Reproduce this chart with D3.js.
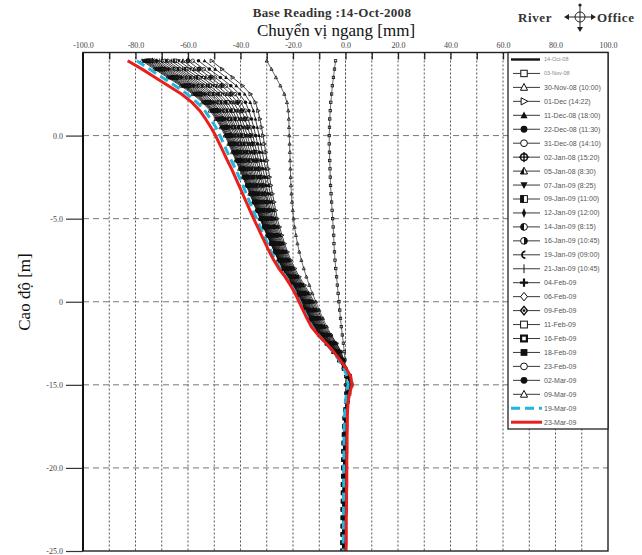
<!DOCTYPE html>
<html><head><meta charset="utf-8">
<script src="https://cdn.jsdelivr.net/npm/d3@7"></script>
<style>body{margin:0;background:#fff}svg{display:block}</style>
</head><body><svg id="chart" width="642" height="555"></svg>
<script>
// Elevation of each inclinometer reading [m]
const depth = [4.5,4,3.5,3,2.5,2,1.5,1,0.5,0,-0.5,-1,-1.5,-2,-2.5,-3,-3.5,-4,-4.5,-5,-5.5,-6,-6.5,-7,-7.5,-8,-8.5,-9,-9.5,-10,-10.5,-11,-11.5,-12,-12.5,-13,-13.5,-14,-14.5,-15,-15.5,-16,-16.5,-17,-17.5,-18,-18.5,-19,-19.5,-20,-20.5,-21,-21.5,-22,-22.5,-23,-23.5,-24,-24.5,-25];

const xTickValues = [-100,-80,-60,-40,-20,0,20,40,60,80,100];
const xTickLabels = ["-100.0","-80.0","-60.0","-40.0","-20.0","0.0","20.0","40.0","60.0","80.0","100.0"];
const xMinorTicks = [-90,-80,-70,-60,-50,-40,-30,-20,-10,0,10,20,30,40,50,60,70,80,90];
const yTickValues = [0,-5,-10,-15,-20,-25];
const yTickLabels = ["0.0","-5.0","0","-15.0","-20.0","-25.0"];
const yGrid = [0,-5,-10,-15,-20];

const seriesNames = ["14-Oct-08","03-Nov-08","30-Nov-08 (10:00)","01-Dec (14:22)","11-Dec-08 (18:00)","22-Dec-08 (11:30)","31-Dec-08 (14:10)","02-Jan-08 (15:20)","05-Jan-08 (8:30)","07-Jan-09 (8:25)","09-Jan-09 (11:00)","12-Jan-09 (12:00)","14-Jan-09 (8:15)","16-Jan-09 (10:45)","19-Jan-09 (09:00)","21-Jan-09 (10:45)","04-Feb-09","06-Feb-09","09-Feb-09","11-Feb-09","16-Feb-09","18-Feb-09","23-Feb-09","02-Mar-09","09-Mar-09","19-Mar-09","23-Mar-09"];
const markerTypes = ["none","square-open","tri-open","tri-right-open","tri-fill","circle-fill","circle-open","circle-plus","tri-half","tri-down-fill","square-half","diamond-thin","circle-half-left","circle-half-right","crescent","vbar","plus-fill","diamond-open","diamond-dot","square-open","square-thick","square-fill","circle-open","circle-fill","tri-open","none","none"];

// Horizontal displacement [mm] per reading date, top to bottom
const oct14 = [0,0,0,0,0,0,0,0,0,0,0,0,0,0,0,0,0,0,0,0,0,0,0,0,0,0,0,0,0,0,0,0,0,0,0,0,0,0,0,0,0,0,0,0,0,0,0,0,0,0,0,0,0,0,0,0,0,0,0,0];
const nov03 = [-3.8,-4.2,-4.6,-5,-5.3,-5.6,-5.8,-6,-6.1,-6.2,-6.2,-6.1,-6,-5.9,-5.8,-5.7,-5.5,-5.3,-5.1,-4.9,-4.7,-4.5,-4.4,-4.2,-4,-3.7,-3.4,-3.1,-2.8,-2.5,-2.2,-1.9,-1.6,-1.2,-0.8,-0.5,-0.2,0,0.1,0.1,0.1,0.1,0,0,0,0,0,0,0,0,-0.1,-0.1,-0.1,-0.1,-0.1,-0.1,-0.1,-0.1,-0.1,-0.1];
const nov30 = [-30,-28.2,-26.5,-24.8,-23.3,-22.3,-21.8,-21.6,-21.5,-21.4,-21.3,-21.2,-21.1,-21,-20.9,-20.8,-20.6,-20.4,-20.1,-19.8,-19.4,-18.9,-18.3,-17.6,-16.8,-15.9,-14.9,-13.8,-12.6,-11.3,-10,-8.6,-7.1,-5.4,-3.5,-1.7,-0.6,-0.2,0.3,0.5,0.3,0.1,0,0,-0.1,-0.1,-0.1,-0.1,-0.2,-0.2,-0.2,-0.2,-0.2,-0.3,-0.3,-0.3,-0.3,-0.3,-0.3,-0.3];
const dec01 = [-51,-47,-43,-39.2,-36.2,-34.3,-33.3,-32.6,-32,-31.4,-30.9,-30.4,-29.9,-29.4,-28.9,-28.4,-27.8,-27.2,-26.6,-26,-25.1,-24.2,-23.2,-22.1,-20.8,-19.3,-17.6,-15.6,-13.7,-12,-10.5,-9.1,-7.6,-5.6,-3.4,-1.8,-0.7,0,0.9,1.2,0.7,0.4,0.2,0.1,0.1,0,0,-0.1,-0.1,-0.1,-0.2,-0.2,-0.2,-0.2,-0.3,-0.3,-0.3,-0.3,-0.3,-0.4];
const dec11 = [-53.7,-49.6,-45.5,-41.6,-38.4,-36.3,-35.1,-34.3,-33.6,-32.9,-32.3,-31.7,-31.1,-30.5,-29.9,-29.3,-28.7,-28,-27.3,-26.7,-25.7,-24.8,-23.7,-22.6,-21.3,-19.8,-18.1,-16.1,-14.2,-12.5,-11,-9.6,-8.1,-6,-3.8,-2.1,-0.9,-0.1,1,1.3,0.8,0.4,0.2,0.1,0,0,-0.1,-0.1,-0.2,-0.2,-0.2,-0.3,-0.3,-0.3,-0.3,-0.4,-0.4,-0.4,-0.4,-0.4];
const dec22 = [-56,-51.9,-47.7,-43.7,-40.4,-38.1,-36.8,-35.8,-35,-34.2,-33.5,-32.8,-32.2,-31.5,-30.8,-30.2,-29.5,-28.7,-28,-27.3,-26.3,-25.3,-24.2,-23.1,-21.7,-20.2,-18.5,-16.5,-14.6,-13,-11.5,-10,-8.5,-6.4,-4.1,-2.3,-1,-0.1,1,1.3,0.9,0.5,0.2,0,-0.1,-0.2,-0.2,-0.3,-0.3,-0.4,-0.4,-0.4,-0.5,-0.5,-0.5,-0.5,-0.6,-0.6,-0.6,-0.6];
const dec31 = [-58.2,-54,-49.7,-45.6,-42.1,-39.8,-38.2,-37.1,-36.2,-35.3,-34.6,-33.8,-33.1,-32.4,-31.7,-30.9,-30.2,-29.4,-28.6,-27.8,-26.8,-25.7,-24.6,-23.5,-22.1,-20.6,-18.9,-16.9,-15,-13.4,-11.9,-10.4,-8.8,-6.8,-4.4,-2.6,-1.2,-0.2,1,1.4,0.8,0.4,0.2,0.1,0,0,-0.1,-0.1,-0.2,-0.2,-0.2,-0.3,-0.3,-0.3,-0.3,-0.4,-0.4,-0.4,-0.4,-0.4];
const jan02 = [-60,-55.8,-51.4,-47.2,-43.7,-41.2,-39.5,-38.3,-37.3,-36.3,-35.5,-34.7,-34,-33.1,-32.4,-31.6,-30.8,-29.9,-29.1,-28.2,-27.2,-26.1,-25,-23.8,-22.4,-20.9,-19.2,-17.2,-15.4,-13.7,-12.2,-10.7,-9.2,-7.1,-4.7,-2.8,-1.3,-0.2,1.1,1.4,0.9,0.5,0.2,0,-0.1,-0.2,-0.2,-0.3,-0.3,-0.4,-0.4,-0.4,-0.5,-0.5,-0.5,-0.5,-0.6,-0.6,-0.6,-0.6];
const jan05 = [-61.9,-57.6,-53.2,-48.9,-45.2,-42.6,-40.8,-39.5,-38.4,-37.4,-36.5,-35.6,-34.8,-33.9,-33.1,-32.3,-31.4,-30.5,-29.6,-28.7,-27.6,-26.5,-25.4,-24.2,-22.8,-21.2,-19.5,-17.6,-15.7,-14.1,-12.6,-11.1,-9.5,-7.4,-5,-3,-1.4,-0.2,1.1,1.5,1,0.5,0.2,0,-0.1,-0.2,-0.3,-0.3,-0.4,-0.4,-0.5,-0.5,-0.5,-0.6,-0.6,-0.6,-0.6,-0.7,-0.7,-0.7];
const jan07 = [-63.5,-59.1,-54.7,-50.3,-46.5,-43.8,-41.9,-40.5,-39.3,-38.2,-37.3,-36.4,-35.5,-34.6,-33.7,-32.8,-31.9,-31,-30,-29.1,-28,-26.9,-25.7,-24.5,-23.1,-21.5,-19.8,-17.9,-16,-14.4,-12.9,-11.4,-9.8,-7.6,-5.2,-3.1,-1.5,-0.3,1.1,1.5,0.9,0.5,0.2,0,-0.1,-0.2,-0.2,-0.3,-0.3,-0.4,-0.4,-0.4,-0.5,-0.5,-0.5,-0.5,-0.6,-0.6,-0.6,-0.6];
const jan09 = [-65,-60.7,-56.1,-51.7,-47.9,-45,-43,-41.5,-40.2,-39.1,-38.1,-37.1,-36.2,-35.2,-34.3,-33.4,-32.4,-31.4,-30.5,-29.5,-28.4,-27.2,-26,-24.8,-23.3,-21.8,-20.1,-18.1,-16.3,-14.7,-13.2,-11.6,-10,-7.9,-5.4,-3.3,-1.6,-0.3,1.2,1.6,1,0.5,0.2,0,-0.1,-0.2,-0.3,-0.3,-0.4,-0.4,-0.5,-0.5,-0.5,-0.6,-0.6,-0.6,-0.6,-0.7,-0.7,-0.7];
const jan12 = [-66.4,-62,-57.4,-52.9,-49,-46,-43.9,-42.3,-41,-39.8,-38.8,-37.8,-36.8,-35.8,-34.8,-33.9,-32.9,-31.8,-30.8,-29.8,-28.7,-27.5,-26.3,-25,-23.6,-22,-20.3,-18.4,-16.5,-14.9,-13.4,-11.9,-10.3,-8.1,-5.6,-3.4,-1.7,-0.3,1.2,1.6,1.1,0.5,0.1,-0.1,-0.3,-0.4,-0.4,-0.5,-0.5,-0.6,-0.6,-0.6,-0.7,-0.7,-0.7,-0.7,-0.8,-0.8,-0.8,-0.8];
const jan14 = [-67.7,-63.3,-58.6,-54.1,-50.1,-47,-44.8,-43.2,-41.8,-40.5,-39.5,-38.4,-37.4,-36.3,-35.3,-34.3,-33.3,-32.2,-31.2,-30.2,-29,-27.8,-26.5,-25.3,-23.8,-22.3,-20.6,-18.6,-16.8,-15.2,-13.7,-12.1,-10.5,-8.3,-5.8,-3.6,-1.8,-0.4,1.2,1.7,1,0.5,0.2,0,-0.1,-0.2,-0.3,-0.3,-0.4,-0.4,-0.5,-0.5,-0.5,-0.6,-0.6,-0.6,-0.6,-0.7,-0.7,-0.7];
const jan16 = [-68.8,-64.3,-59.6,-55,-50.9,-47.8,-45.6,-43.9,-42.4,-41.1,-40,-38.9,-37.9,-36.8,-35.7,-34.7,-33.6,-32.6,-31.5,-30.4,-29.3,-28,-26.8,-25.5,-24,-22.5,-20.8,-18.8,-17,-15.4,-13.9,-12.3,-10.7,-8.5,-6,-3.7,-1.8,-0.4,1.3,1.7,1.1,0.5,0.1,-0.1,-0.3,-0.4,-0.4,-0.5,-0.5,-0.6,-0.6,-0.6,-0.7,-0.7,-0.7,-0.7,-0.8,-0.8,-0.8,-0.8];
const jan19 = [-69.8,-65.3,-60.6,-56,-51.8,-48.6,-46.3,-44.5,-43,-41.7,-40.6,-39.4,-38.4,-37.2,-36.1,-35.1,-34,-32.9,-31.8,-30.7,-29.5,-28.3,-27,-25.7,-24.2,-22.6,-20.9,-19,-17.2,-15.6,-14.1,-12.5,-10.9,-8.7,-6.1,-3.8,-1.9,-0.4,1.3,1.8,1.1,0.6,0.1,-0.2,-0.3,-0.4,-0.5,-0.5,-0.6,-0.6,-0.7,-0.7,-0.7,-0.8,-0.8,-0.8,-0.8,-0.9,-0.9,-0.9];
const jan21 = [-70.9,-66.4,-61.6,-56.9,-52.7,-49.5,-47,-45.2,-43.6,-42.3,-41.1,-39.9,-38.8,-37.7,-36.6,-35.5,-34.3,-33.2,-32.1,-31,-29.8,-28.5,-27.2,-25.9,-24.4,-22.8,-21.1,-19.2,-17.4,-15.8,-14.3,-12.7,-11.1,-8.8,-6.3,-3.9,-2,-0.5,1.3,1.8,1.1,0.5,0.1,-0.1,-0.3,-0.4,-0.4,-0.5,-0.5,-0.6,-0.6,-0.6,-0.7,-0.7,-0.7,-0.7,-0.8,-0.8,-0.8,-0.8];
const feb04 = [-71.9,-67.4,-62.6,-57.8,-53.6,-50.3,-47.8,-45.9,-44.3,-42.9,-41.6,-40.4,-39.3,-38.1,-37,-35.8,-34.7,-33.5,-32.4,-31.2,-30,-28.7,-27.4,-26.1,-24.6,-23,-21.3,-19.4,-17.6,-16,-14.5,-12.9,-11.2,-9,-6.4,-4,-2,-0.5,1.4,1.9,1.1,0.6,0.1,-0.2,-0.3,-0.4,-0.5,-0.5,-0.6,-0.6,-0.7,-0.7,-0.7,-0.8,-0.8,-0.8,-0.8,-0.9,-0.9,-0.9];
const feb06 = [-72.7,-68.2,-63.3,-58.6,-54.2,-50.9,-48.3,-46.4,-44.7,-43.3,-42.1,-40.8,-39.7,-38.4,-37.3,-36.1,-34.9,-33.8,-32.6,-31.4,-30.2,-28.9,-27.6,-26.2,-24.7,-23.2,-21.5,-19.5,-17.7,-16.1,-14.6,-13,-11.4,-9.1,-6.5,-4.1,-2.1,-0.5,1.4,1.9,1.2,0.6,0.1,-0.2,-0.4,-0.5,-0.6,-0.6,-0.7,-0.7,-0.8,-0.8,-0.8,-0.9,-0.9,-0.9,-0.9,-1,-1,-1];
const feb09 = [-73.5,-68.9,-64.1,-59.3,-54.9,-51.5,-48.9,-46.9,-45.2,-43.7,-42.5,-41.2,-40,-38.8,-37.6,-36.4,-35.2,-34,-32.8,-31.6,-30.4,-29.1,-27.7,-26.4,-24.9,-23.3,-21.6,-19.7,-17.9,-16.3,-14.8,-13.2,-11.5,-9.3,-6.6,-4.2,-2.2,-0.5,1.4,2,1.1,0.6,0.1,-0.2,-0.3,-0.4,-0.5,-0.5,-0.6,-0.6,-0.7,-0.7,-0.7,-0.8,-0.8,-0.8,-0.8,-0.9,-0.9,-0.9];
const feb11 = [-74.3,-69.7,-64.8,-60,-55.6,-52.1,-49.4,-47.4,-45.6,-44.2,-42.9,-41.6,-40.4,-39.1,-37.9,-36.7,-35.5,-34.2,-33,-31.8,-30.6,-29.2,-27.9,-26.5,-25,-23.4,-21.7,-19.8,-18,-16.4,-14.9,-13.3,-11.7,-9.4,-6.7,-4.3,-2.2,-0.5,1.5,2,1.2,0.6,0.1,-0.2,-0.4,-0.5,-0.6,-0.6,-0.7,-0.7,-0.8,-0.8,-0.8,-0.9,-0.9,-0.9,-0.9,-1,-1,-1];
const feb16 = [-75.1,-70.5,-65.6,-60.7,-56.2,-52.7,-50,-47.9,-46.1,-44.6,-43.3,-42,-40.7,-39.4,-38.2,-37,-35.7,-34.5,-33.2,-32,-30.7,-29.4,-28,-26.7,-25.2,-23.6,-21.9,-20,-18.2,-16.6,-15.1,-13.5,-11.8,-9.5,-6.9,-4.4,-2.3,-0.5,1.5,2.1,1.3,0.6,0.1,-0.2,-0.4,-0.5,-0.6,-0.7,-0.7,-0.8,-0.8,-0.9,-0.9,-0.9,-1,-1,-1,-1,-1.1,-1.1];
const feb18 = [-75.8,-71.1,-66.2,-61.3,-56.8,-53.2,-50.4,-48.3,-46.5,-45,-43.6,-42.3,-41,-39.7,-38.4,-37.2,-35.9,-34.7,-33.4,-32.2,-30.9,-29.5,-28.2,-26.8,-25.3,-23.7,-22,-20.1,-18.3,-16.7,-15.2,-13.6,-11.9,-9.6,-7,-4.4,-2.3,-0.6,1.5,2.1,1.2,0.6,0.1,-0.2,-0.4,-0.5,-0.6,-0.6,-0.7,-0.7,-0.8,-0.8,-0.8,-0.9,-0.9,-0.9,-0.9,-1,-1,-1];
const feb23 = [-76.3,-71.6,-66.7,-61.7,-57.2,-53.6,-50.8,-48.6,-46.8,-45.3,-43.9,-42.5,-41.3,-39.9,-38.6,-37.4,-36.1,-34.8,-33.6,-32.3,-31,-29.6,-28.3,-26.9,-25.4,-23.8,-22.1,-20.2,-18.4,-16.8,-15.3,-13.7,-12,-9.7,-7,-4.5,-2.3,-0.6,1.5,2,1.3,0.6,0.1,-0.2,-0.4,-0.5,-0.6,-0.7,-0.7,-0.8,-0.8,-0.9,-0.9,-0.9,-1,-1,-1,-1,-1.1,-1.1];
const mar02 = [-76.8,-72.2,-67.2,-62.2,-57.7,-54,-51.1,-49,-47.1,-45.5,-44.2,-42.8,-41.5,-40.1,-38.9,-37.6,-36.3,-35,-33.7,-32.4,-31.2,-29.8,-28.4,-27,-25.5,-23.9,-22.2,-20.3,-18.5,-16.9,-15.4,-13.8,-12.1,-9.8,-7.1,-4.5,-2.4,-0.6,1.3,1.8,1.2,0.6,0.1,-0.2,-0.4,-0.5,-0.6,-0.6,-0.7,-0.7,-0.8,-0.8,-0.8,-0.9,-0.9,-0.9,-0.9,-1,-1,-1];
const mar09 = [-77.5,-72.8,-67.8,-62.8,-58.2,-54.5,-51.6,-49.4,-47.5,-45.9,-44.5,-43.1,-41.8,-40.4,-39.1,-37.8,-36.5,-35.2,-33.9,-32.6,-31.3,-29.9,-28.5,-27.1,-25.6,-24,-22.3,-20.4,-18.6,-17,-15.5,-13.9,-12.2,-9.9,-7.2,-4.6,-2.4,-0.6,1,1.3,0.8,0.3,0,-0.2,-0.4,-0.5,-0.6,-0.7,-0.7,-0.8,-0.8,-0.8,-0.9,-0.9,-0.9,-0.9,-1,-1,-1,-1];
const mar19 = [-79.5,-74.7,-69.8,-64.9,-60.3,-56.6,-53.6,-51.4,-49.4,-47.8,-46.4,-45,-43.5,-41.9,-40.5,-39.1,-37.8,-36.5,-35.2,-33.9,-32.5,-31.1,-29.7,-28.3,-26.7,-24.9,-22.7,-20.7,-18.9,-17.4,-15.9,-14.4,-12.7,-10.3,-7.5,-4.8,-2.5,-0.6,0.6,1,0.4,0,-0.2,-0.4,-0.5,-0.5,-0.6,-0.6,-0.6,-0.7,-0.7,-0.7,-0.7,-0.8,-0.8,-0.8,-0.8,-0.8,-0.9,-0.9];
const mar23 = [-83,-77.5,-72.5,-67.5,-62.5,-58.5,-55.5,-53.3,-51.3,-49.5,-48,-46.5,-45,-43.4,-42,-40.6,-39.2,-37.8,-36.4,-35,-33.5,-32,-30.5,-29,-27.3,-25.4,-23,-21,-19.2,-17.7,-16.2,-14.7,-13,-10.4,-7.4,-4.6,-2.1,0.2,2,2.5,1.6,1,0.8,0.7,0.7,0.6,0.6,0.6,0.5,0.5,0.5,0.5,0.4,0.4,0.4,0.3,0.3,0.3,0.3,0.2];

const seriesValues = [oct14,nov03,nov30,dec01,dec11,dec22,dec31,jan02,jan05,jan07,jan09,jan12,jan14,jan16,jan19,jan21,feb04,feb06,feb09,feb11,feb16,feb18,feb23,mar02,mar09,mar19,mar23];

// ---------- layout ----------
const svg = d3.select("#chart");
const frame = {left: 83, right: 608, top: 52.5, bottom: 551};
const x = d3.scaleLinear().domain([-100, 100]).range([frame.left, frame.right]);
const y = d3.scaleLinear().domain([-25, 5]).range([frame.bottom, frame.top]);
const serif = "'Liberation Serif','Times New Roman',serif";
const sans = "'Liberation Sans',Arial,sans-serif";

// headings
svg.append("text").attr("x", 332).attr("y", 17).attr("text-anchor", "middle")
  .attr("font-family", serif).attr("font-weight", "bold").attr("font-size", 13).attr("letter-spacing", 0.3).attr("fill", "#333")
  .text("Base Reading :14-Oct-2008");
svg.append("text").attr("x", 336).attr("y", 36).attr("text-anchor", "middle")
  .attr("font-family", serif).attr("font-size", 17).attr("fill", "#111")
  .text("Chuyển vị ngang [mm]");

// direction key
const dir = svg.append("g").attr("font-family", serif).attr("font-weight", "bold").attr("font-size", 13).attr("letter-spacing", 0.6).attr("fill", "#333");
dir.append("text").attr("x", 518).attr("y", 22).text("River");
dir.append("text").attr("x", 597).attr("y", 22).text("Office");
const cx = 580, cy = 17;
const key = svg.append("g").attr("stroke", "#222").attr("fill", "none").attr("stroke-width", 1);
key.append("circle").attr("cx", cx).attr("cy", cy).attr("r", 5);
key.append("line").attr("x1", cx - 13).attr("x2", cx + 13).attr("y1", cy).attr("y2", cy);
key.append("line").attr("x1", cx).attr("x2", cx).attr("y1", cy - 11).attr("y2", cy + 12);
svg.append("path").attr("fill", "#222")
  .attr("d", `M${cx-16},${cy}L${cx-11},${cy-3}L${cx-11},${cy+3}Z M${cx+16},${cy}L${cx+11},${cy-3}L${cx+11},${cy+3}Z M${cx},${cy+15}L${cx-3},${cy+10}L${cx+3},${cy+10}Z`);
svg.append("circle").attr("cx", cx).attr("cy", cy - 12).attr("r", 1.6).attr("fill", "#222");

// y-axis title
svg.append("text").attr("transform", "translate(30,292) rotate(-90)").attr("text-anchor", "middle")
  .attr("font-family", serif).attr("font-size", 17).attr("fill", "#111").text("Cao độ [m]");

// grid
const grid = svg.append("g");
grid.selectAll(".gx").data(xMinorTicks).join("line")
  .attr("x1", d => x(d)).attr("x2", d => x(d)).attr("y1", frame.top).attr("y2", frame.bottom)
  .attr("stroke", "#555").attr("stroke-width", 1).attr("stroke-dasharray", "2,2");
grid.selectAll(".gy").data(yGrid).join("line")
  .attr("x1", frame.left).attr("x2", frame.right).attr("y1", d => y(d)).attr("y2", d => y(d))
  .attr("stroke", "#777").attr("stroke-width", 1).attr("stroke-dasharray", "6,4");

// axes
const topAxis = svg.append("g").attr("transform", `translate(0,${frame.top})`)
  .call(d3.axisTop(x).tickValues(xTickValues).tickSize(0).tickPadding(5).tickFormat((d, i) => xTickLabels[i]));
topAxis.select(".domain").remove();
topAxis.selectAll("text").attr("font-family", serif).attr("font-size", 8).attr("fill", "#444");
const topTicks = svg.append("g").attr("transform", `translate(0,${frame.top})`)
  .call(d3.axisBottom(x).tickValues(xMinorTicks).tickSize(7).tickFormat(""));
topTicks.select(".domain").remove();
topTicks.selectAll("line").attr("stroke", "#222").attr("stroke-width", 1.3);

const leftAxis = svg.append("g").attr("transform", `translate(${frame.left},0)`)
  .call(d3.axisLeft(y).tickValues(yTickValues).tickSize(17).tickPadding(3).tickFormat((d, i) => yTickLabels[i]));
leftAxis.select(".domain").remove();
leftAxis.selectAll("line").attr("stroke", "#333").attr("stroke-width", 1.2);
leftAxis.selectAll("text").attr("font-family", serif).attr("font-size", 8).attr("fill", "#444");

// ---------- markers ----------
// bg: fill used inside hollow symbols (white in the legend, see-through on the profiles)
function drawMarker(g, type, r, sw, bg) {
  const k = "#111";
  const path = d => g.append("path").attr("d", d);
  switch (type) {
    case "square-open":
      g.append("rect").attr("x", -r).attr("y", -r).attr("width", 2*r).attr("height", 2*r).attr("fill", bg).attr("stroke", k).attr("stroke-width", sw); break;
    case "square-thick":
      g.append("rect").attr("x", -r*0.85).attr("y", -r*0.85).attr("width", 1.7*r).attr("height", 1.7*r).attr("fill", bg).attr("stroke", k).attr("stroke-width", sw*2.2); break;
    case "square-fill":
      g.append("rect").attr("x", -r).attr("y", -r).attr("width", 2*r).attr("height", 2*r).attr("fill", k); break;
    case "square-half":
      g.append("rect").attr("x", -r).attr("y", -r).attr("width", 2*r).attr("height", 2*r).attr("fill", bg).attr("stroke", k).attr("stroke-width", sw);
      g.append("rect").attr("x", -r).attr("y", -r).attr("width", r).attr("height", 2*r).attr("fill", k); break;
    case "tri-open":
      path(`M0,${-r*1.15}L${r*1.05},${r*0.85}L${-r*1.05},${r*0.85}Z`).attr("fill", bg).attr("stroke", k).attr("stroke-width", sw); break;
    case "tri-fill":
      path(`M0,${-r*1.15}L${r*1.05},${r*0.85}L${-r*1.05},${r*0.85}Z`).attr("fill", k); break;
    case "tri-half":
      path(`M0,${-r*1.15}L${r*1.05},${r*0.85}L${-r*1.05},${r*0.85}Z`).attr("fill", bg).attr("stroke", k).attr("stroke-width", sw);
      path(`M0,${-r*1.15}L0,${r*0.85}L${-r*1.05},${r*0.85}Z`).attr("fill", k); break;
    case "tri-down-fill":
      path(`M0,${r*1.15}L${r*1.05},${-r*0.85}L${-r*1.05},${-r*0.85}Z`).attr("fill", k); break;
    case "tri-right-open":
      path(`M${r*1.15},0L${-r*0.85},${-r*1.05}L${-r*0.85},${r*1.05}Z`).attr("fill", bg).attr("stroke", k).attr("stroke-width", sw); break;
    case "circle-fill":
      g.append("circle").attr("r", r).attr("fill", k); break;
    case "circle-open":
      g.append("circle").attr("r", r).attr("fill", bg).attr("stroke", k).attr("stroke-width", sw); break;
    case "circle-plus":
      g.append("circle").attr("r", r).attr("fill", bg).attr("stroke", k).attr("stroke-width", sw*1.4);
      path(`M${-r*1.5},0H${r*1.5}M0,${-r*1.5}V${r*1.5}`).attr("stroke", k).attr("stroke-width", sw*1.4); break;
    case "circle-half-left":
      g.append("circle").attr("r", r).attr("fill", bg).attr("stroke", k).attr("stroke-width", sw);
      path(`M0,${-r}A${r},${r} 0 0 0 0,${r}Z`).attr("fill", k); break;
    case "circle-half-right":
      g.append("circle").attr("r", r).attr("fill", bg).attr("stroke", k).attr("stroke-width", sw);
      path(`M0,${-r}A${r},${r} 0 0 1 0,${r}Z`).attr("fill", k); break;
    case "crescent":
      path(`M${r*0.4},${-r}A${r},${r} 0 0 0 ${r*0.4},${r}`).attr("fill", "none").attr("stroke", k).attr("stroke-width", sw*1.8); break;
    case "vbar":
      path(`M0,${-r*1.3}V${r*1.3}`).attr("stroke", k).attr("stroke-width", sw); break;
    case "plus-fill":
      path(`M${-r*1.2},0H${r*1.2}M0,${-r*1.2}V${r*1.2}`).attr("stroke", k).attr("stroke-width", sw*2.2); break;
    case "diamond-open":
      path(`M0,${-r*1.25}L${r},0L0,${r*1.25}L${-r},0Z`).attr("fill", bg).attr("stroke", k).attr("stroke-width", sw); break;
    case "diamond-dot":
      path(`M0,${-r*1.25}L${r},0L0,${r*1.25}L${-r},0Z`).attr("fill", bg).attr("stroke", k).attr("stroke-width", sw*1.5);
      g.append("circle").attr("r", r*0.4).attr("fill", k); break;
    case "diamond-thin":
      path(`M0,${-r*1.45}L${r*0.6},0L0,${r*1.45}L${-r*0.6},0Z`).attr("fill", k); break;
  }
}

// ---------- profiles ----------
const plot = svg.append("g");
svg.append("clipPath").attr("id", "frameClip").append("rect")
  .attr("x", frame.left).attr("y", frame.top).attr("width", frame.right - frame.left).attr("height", frame.bottom - frame.top);
plot.attr("clip-path", "url(#frameClip)");

const line = d3.line().x(d => x(d[0])).y(d => y(d[1]));
const lineStyle = i => {
  if (i === 26) return {stroke: "#e8201c", width: 3, dash: null};
  if (i === 25) return {stroke: "#22b5e0", width: 3, dash: "9,5"};
  if (i === 0) return {stroke: "#555", width: 1, dash: "2,2"};   // base reading sits on the zero line
  if (i <= 2) return {stroke: "#444", width: 0.8, dash: null};
  return {stroke: "#111", width: 0.8, dash: null};
};

seriesValues.forEach((vals, i) => {
  const pts = vals.map((v, j) => [v, depth[j]]);
  const st = lineStyle(i);
  plot.append("path").datum(pts).attr("d", line).attr("fill", "none")
    .attr("stroke", st.stroke).attr("stroke-width", st.width)
    .attr("stroke-dasharray", st.dash).attr("stroke-linejoin", "round");
  if (markerTypes[i] !== "none") {
    const r = i === 1 ? 1.2 : (i === 2 ? 1.5 : 1.8);
    pts.forEach(p => {
      const g = plot.append("g").attr("transform", `translate(${x(p[0])},${y(p[1])})`);
      drawMarker(g, markerTypes[i], r, 0.8, "none");
    });
  }
});

// frame
svg.append("rect").attr("x", frame.left).attr("y", frame.top)
  .attr("width", frame.right - frame.left).attr("height", frame.bottom - frame.top)
  .attr("fill", "none").attr("stroke", "#222").attr("stroke-width", 1.4);
svg.append("line").attr("x1", frame.left).attr("x2", frame.left).attr("y1", frame.top).attr("y2", frame.bottom)
  .attr("stroke", "#111").attr("stroke-width", 2);

// ---------- legend ----------
const legend = svg.append("g");
const lg = {x: 508, y: frame.top, w: frame.right - 508, h: 429 - frame.top, first: 7, step: 13.95};
legend.append("rect").attr("x", lg.x).attr("y", lg.y).attr("width", lg.w).attr("height", lg.h)
  .attr("fill", "#fff").attr("stroke", "#222").attr("stroke-width", 1.3);
seriesNames.forEach((name, i) => {
  const ly = lg.y + lg.first + i * lg.step;
  const st = lineStyle(i);
  if (i === 0) {
    legend.append("line").attr("x1", 511).attr("x2", 540).attr("y1", ly).attr("y2", ly).attr("stroke", "#111").attr("stroke-width", 2.4);
  } else if (i >= 25) {
    legend.append("line").attr("x1", 511).attr("x2", 542).attr("y1", ly).attr("y2", ly)
      .attr("stroke", st.stroke).attr("stroke-width", 3).attr("stroke-dasharray", st.dash);
  } else {
    legend.append("line").attr("x1", 513).attr("x2", 540).attr("y1", ly).attr("y2", ly).attr("stroke", "#222").attr("stroke-width", 0.9);
    const g = legend.append("g").attr("transform", `translate(524,${ly})`);
    drawMarker(g, markerTypes[i], i === 1 ? 3.2 : 3.4, 1, "#fff");
  }
  legend.append("text").attr("x", 544).attr("y", ly).attr("dy", "0.35em")
    .attr("font-family", sans).attr("font-size", i <= 1 ? 5.5 : 7).attr("fill", i <= 1 ? "#888" : "#555")
    .text(name);
});
</script>
</body></html>
